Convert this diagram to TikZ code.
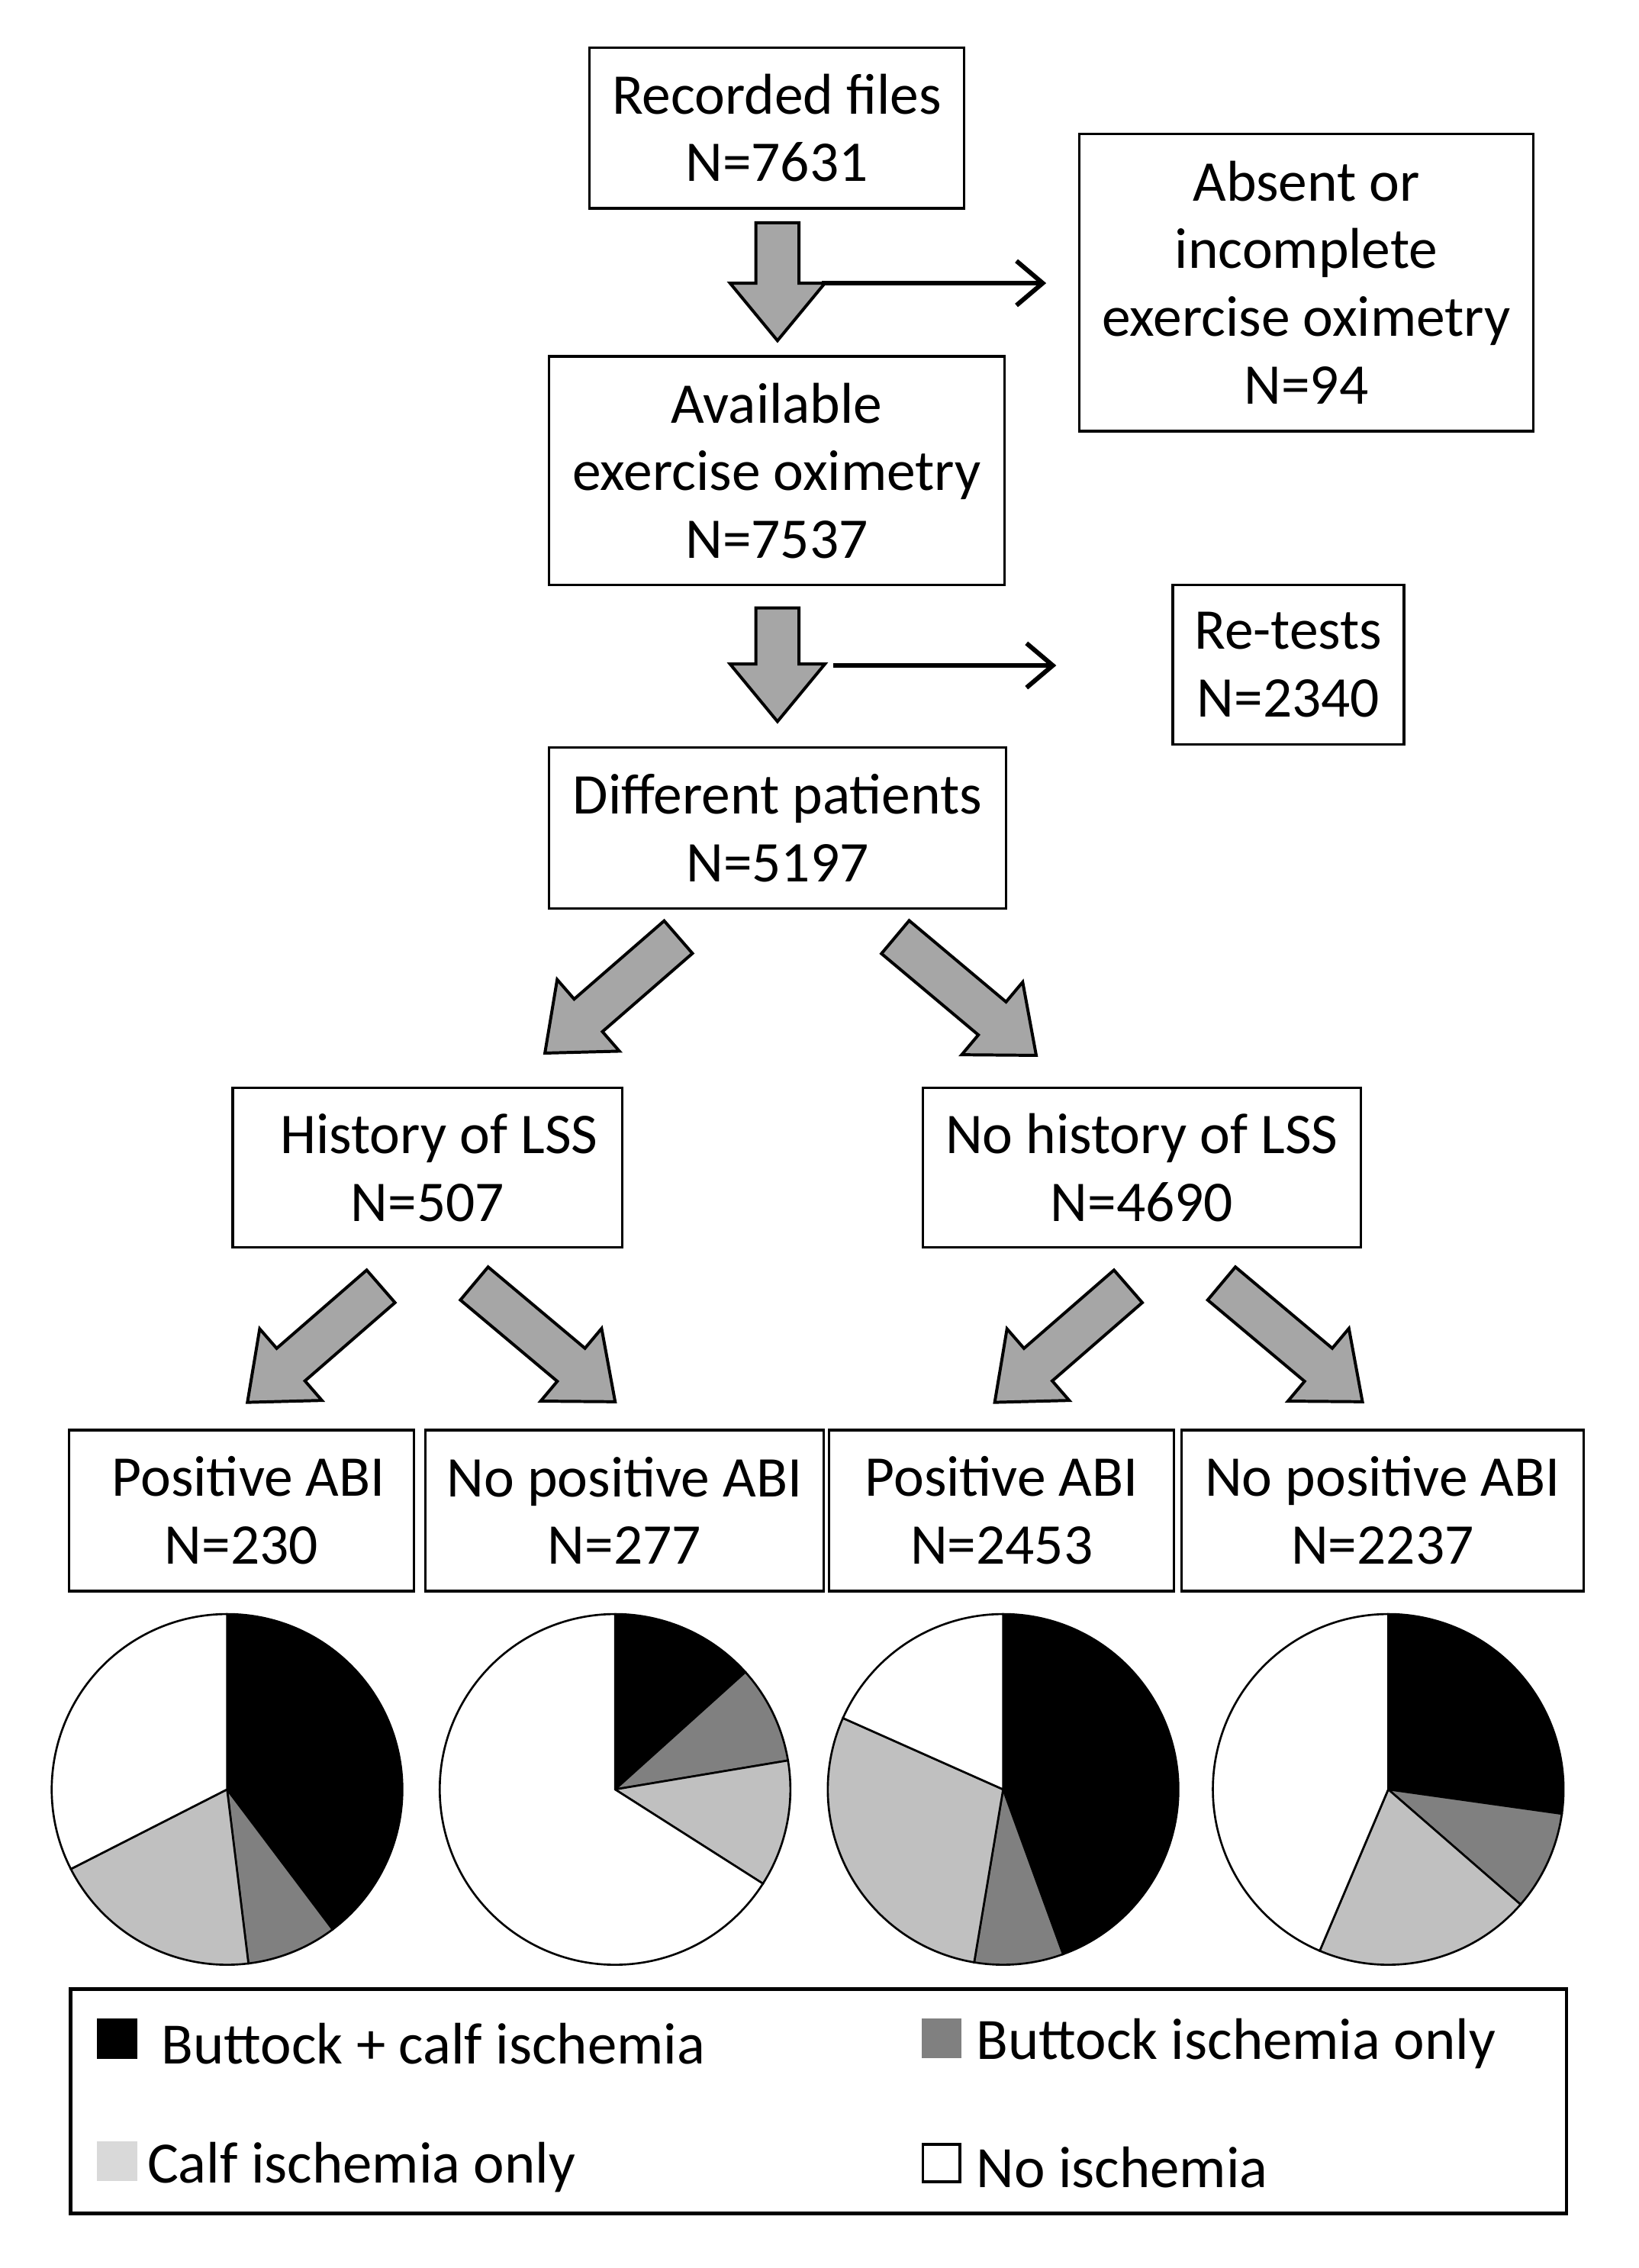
\documentclass[tikz,border=0pt]{standalone}
\usepackage{fontspec}
\setmainfont{Carlito}
\usetikzlibrary{arrows.meta}
\definecolor{dg}{HTML}{808080}
\definecolor{lg}{HTML}{C0C0C0}
\definecolor{llg}{HTML}{D9D9D9}
\definecolor{ag}{HTML}{A6A6A6}
\tikzset{
 box/.style={draw,line width=2.5pt,align=center,inner sep=0pt,font=\fontsize{57}{67}\selectfont},
 barr/.style={draw,fill=ag,line width=3pt,line join=miter},
 side/.style={line width=4.5pt,-{Straight Barb[length=26pt,width=44pt,line width=4.5pt]}},
 pie/.style={draw,line width=2pt},
 leg/.style={anchor=west,font=\fontsize{58}{68}\selectfont},
 sq/.style={draw,line width=2.5pt,minimum size=1.3cm,inner sep=0pt}
}
\newcommand\barrow[4]{\begin{scope}[shift={(#1,#2)},rotate=#3]
\path[barr] (0,-15)--({#4-40},-15)--({#4-40},-33)--(#4,0)--({#4-40},33)--({#4-40},15)--(0,15)--cycle;
\end{scope}}
\newcommand\slice[5]{\path[pie,fill=#5] (0,0)--(#3:122) arc[start angle=#3,end angle=#4,radius=122]--cycle;}
\begin{document}
\begin{tikzpicture}[x=0.05cm,y=-0.05cm]
\useasboundingbox (0,0) rectangle (1140,1578);
\node[box,minimum width=13.05cm,minimum height=5.6cm] (rec) at (540.5,89) {Recorded files\\N=7631};
\node[box,minimum width=15.8cm,minimum height=10.35cm] (abs) at (909,196.5) {Absent or\\incomplete\\exercise oximetry\\N=94};
\node[box,minimum width=15.85cm,minimum height=7.95cm] (ava) at (540.5,327.5) {Available\\exercise oximetry\\N=7537};
\node[box,minimum width=8.05cm,minimum height=5.55cm] (ret) at (896.5,462.5) {Re-tests\\N=2340};
\node[box,minimum width=15.9cm,minimum height=5.6cm] (dif) at (541,576) {Different patients\\N=5197};
\node[box,minimum width=13.55cm,minimum height=5.55cm] (his) at (297.5,812.5) {\hspace*{0.8cm}History of LSS\\N=507};
\node[box,minimum width=15.25cm,minimum height=5.55cm] (noh) at (794.5,812.5) {No history of LSS\\N=4690};
\node[box,minimum width=12cm,minimum height=5.6cm] (b1) at (168,1051) {\hspace*{0.5cm}Positive ABI\\N=230};
\node[box,minimum width=13.85cm,minimum height=5.6cm] (b2) at (434.5,1051) {No positive ABI\\N=277};
\node[box,minimum width=12cm,minimum height=5.6cm] (b3) at (697,1051) {Positive ABI\\N=2453};
\node[box,minimum width=14cm,minimum height=5.6cm] (b4) at (962,1051) {No positive ABI\\N=2237};
\coordinate (s1) at (572,197); \coordinate (e1) at (728,197);
\coordinate (s2) at (580,463); \coordinate (e2) at (735,463);
\draw[side] (s1)--(e1);
\draw[side] (s2)--(e2);
\barrow{541}{155}{-90}{82}
\barrow{541}{423}{-90}{79}
\barrow{472}{652}{-139}{123}
\barrow{623}{652}{-40}{128}
\barrow{265}{895}{-139}{123}
\barrow{330}{893}{-40}{128}
\barrow{785}{895}{-139}{123}
\barrow{850}{893}{-40}{128}
\begin{scope}[shift={(158,1245)},yscale=-1]
\slice{}{}{90}{-53}{black}\slice{}{}{-53}{-83}{dg}\slice{}{}{-83}{-153}{lg}\slice{}{}{-153}{-270}{white}
\end{scope}
\begin{scope}[shift={(428,1245)},yscale=-1]
\slice{}{}{90}{42}{black}\slice{}{}{42}{9.5}{dg}\slice{}{}{9.5}{-32.5}{lg}\slice{}{}{-32.5}{-270}{white}
\end{scope}
\begin{scope}[shift={(698,1245)},yscale=-1]
\slice{}{}{90}{-70}{black}\slice{}{}{-70}{-99.5}{dg}\slice{}{}{-99.5}{-204}{lg}\slice{}{}{-204}{-270}{white}
\end{scope}
\begin{scope}[shift={(966,1245)},yscale=-1]
\slice{}{}{90}{-8}{black}\slice{}{}{-8}{-41}{dg}\slice{}{}{-41}{-113}{lg}\slice{}{}{-113}{-270}{white}
\end{scope}
\node[draw,line width=3.5pt,minimum width=52.05cm,minimum height=7.8cm] (leg) at (569.5,1462) {};
\node[sq,fill=black] (q1) at (81.5,1418.5) {};
\node[sq,fill=dg,draw=dg] (q2) at (655,1418) {};
\node[sq,fill=llg,draw=llg] (q3) at (81.5,1503.5) {};
\node[sq,fill=white] (q4) at (655,1505) {};
\node[leg] (t1) at (110,1422) {Buttock + calf ischemia};
\node[leg] (t2) at (677,1422) {Buttock ischemia only};
\node[leg] (t3) at (100,1508) {Calf ischemia only};
\node[leg] (t4) at (677,1508) {No ischemia};
\end{tikzpicture}
\end{document}
